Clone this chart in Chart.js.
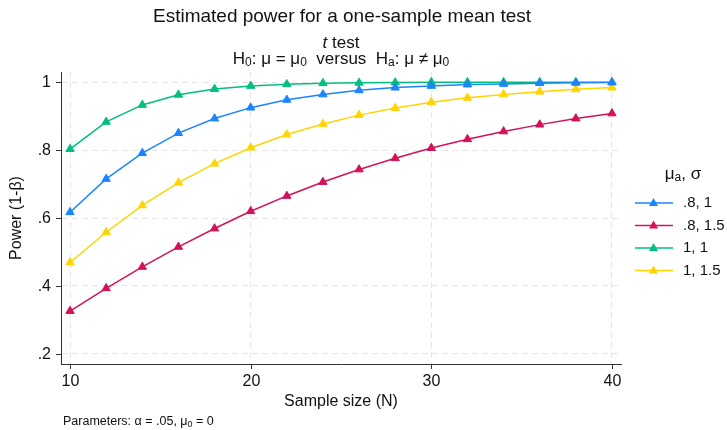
<!DOCTYPE html>
<html lang="en">
<head>
<meta charset="UTF-8">
<title>Estimated power</title>
<style>
  html, body { margin: 0; padding: 0; background: #fff; }
  #wrap { width: 727px; height: 430px; }
</style>
<script src="https://cdn.jsdelivr.net/npm/chart.js"></script>
</head>
<body>
<div id="wrap"><canvas id="powerChart" width="727" height="430"></canvas></div>
<script>
// sample sizes
const sampleSizes = [10, 12, 14, 16, 18, 20, 22, 24, 26, 28, 30, 32, 34, 36, 38, 40];

// power by (mu_a, sigma)
const power_08_1   = [0.617, 0.715, 0.791, 0.850, 0.893, 0.925, 0.948, 0.964, 0.976, 0.984, 0.989, 0.993, 0.995, 0.997, 0.998, 0.999];
const power_08_15  = [0.326, 0.393, 0.456, 0.515, 0.569, 0.620, 0.665, 0.706, 0.743, 0.776, 0.806, 0.832, 0.855, 0.875, 0.893, 0.908];
const power_1_1    = [0.803, 0.883, 0.933, 0.963, 0.980, 0.989, 0.994, 0.997, 0.998, 0.999, 1.000, 1.000, 1.000, 1.000, 1.000, 1.000];
const power_1_15   = [0.469, 0.558, 0.637, 0.704, 0.760, 0.807, 0.846, 0.877, 0.903, 0.924, 0.941, 0.954, 0.964, 0.972, 0.979, 0.984];

const seriesLabels = ['.8, 1', '.8, 1.5', '1, 1', '1, 1.5'];
const seriesColors = ['#1a85ff', '#d41159', '#00bf7f', '#ffd400'];

const xTicks = [10, 20, 30, 40];
const yTicks = [0.2, 0.4, 0.6, 0.8, 1];
const yTickLabels = ['.2', '.4', '.6', '.8', '1'];

const FONT = '"Liberation Sans", Arial, sans-serif';

function pts(vals) {
  return sampleSizes.map((n, i) => ({ x: n, y: vals[i] }));
}

const allSeries = [power_08_1, power_08_15, power_1_1, power_1_15];

const datasets = allSeries.map((vals, i) => ({
  label: seriesLabels[i],
  data: pts(vals),
  borderColor: seriesColors[i],
  backgroundColor: seriesColors[i],
  borderWidth: 1.5,
  pointStyle: 'triangle',
  pointRadius: 4.8,
  pointBorderWidth: 1,
  tension: 0
}));

// text with subscripts / italics: parts = [[text, 'sub'|'it'|'']]
function richText(ctx, parts, x, y, size, align) {
  const fontOf = k => (k === 'it' ? 'italic ' : '') + (k === 'sub' ? Math.round(size * 0.7) : size) + 'px ' + FONT;
  let total = 0;
  parts.forEach(p => { ctx.font = fontOf(p[1]); total += ctx.measureText(p[0]).width; });
  let cx = align === 'center' ? x - total / 2 : x;
  ctx.textAlign = 'left';
  parts.forEach(p => {
    ctx.font = fontOf(p[1]);
    ctx.fillText(p[0], cx, p[1] === 'sub' ? y + size * 0.22 : y);
    cx += ctx.measureText(p[0]).width;
  });
}

// texts, tick marks and legend
const decorations = {
  id: 'decorations',
  afterDraw(chart) {
    const ctx = chart.ctx;
    const xs = chart.scales.x, ys = chart.scales.y;
    const area = chart.chartArea;
    ctx.save();
    ctx.fillStyle = '#111';
    ctx.textAlign = 'center';
    ctx.textBaseline = 'middle';

    // titles
    ctx.font = '19px ' + FONT;
    ctx.fillText('Estimated power for a one-sample mean test', 342, 17);
    richText(ctx, [['t', 'it'], [' test', '']], 341, 43, 17, 'center');
    richText(ctx, [['H', ''], ['0', 'sub'], [': \u03bc = \u03bc', ''], ['0', 'sub'],
                   ['  versus  H', ''], ['a', 'sub'], [': \u03bc \u2260 \u03bc', ''], ['0', 'sub']],
             341, 59, 17, 'center');

    // axes ticks
    ctx.strokeStyle = '#333';
    ctx.lineWidth = 1;
    ctx.font = '16px ' + FONT;
    ctx.textAlign = 'center';
    xTicks.forEach(v => {
      const px = Math.round(xs.getPixelForValue(v)) + 0.5;
      ctx.beginPath();
      ctx.moveTo(px, area.bottom);
      ctx.lineTo(px, area.bottom + 5);
      ctx.stroke();
      ctx.fillText(String(v), px, area.bottom + 18);
    });
    ctx.textAlign = 'right';
    yTicks.forEach((v, i) => {
      const py = Math.round(ys.getPixelForValue(v)) + 0.5;
      ctx.beginPath();
      ctx.moveTo(area.left - 5, py);
      ctx.lineTo(area.left, py);
      ctx.stroke();
      ctx.fillText(yTickLabels[i], area.left - 10, py);
    });

    // axis titles
    ctx.textAlign = 'center';
    ctx.font = '16px ' + FONT;
    ctx.fillText('Sample size (N)', (area.left + area.right) / 2, 402);
    ctx.save();
    ctx.translate(17, (area.top + area.bottom) / 2);
    ctx.rotate(-Math.PI / 2);
    ctx.fillText('Power (1-\u03b2)', 0, 0);
    ctx.restore();

    // note
    richText(ctx, [['Parameters: \u03b1 = .05, \u03bc', ''], ['0', 'sub'], [' = 0', '']], 63, 422, 12.5, 'left');

    // legend
    richText(ctx, [['\u03bc', ''], ['a', 'sub'], [', \u03c3', '']], 683, 174, 17, 'center');
    ctx.textAlign = 'left';
    ctx.font = '15px ' + FONT;
    seriesLabels.forEach((lab, i) => {
      const y = 203 + i * 22.5;
      ctx.strokeStyle = seriesColors[i];
      ctx.lineWidth = 1.5;
      ctx.beginPath();
      ctx.moveTo(635, y);
      ctx.lineTo(673, y);
      ctx.stroke();
      ctx.fillStyle = seriesColors[i];
      ctx.beginPath();
      ctx.moveTo(653.5, y - 5);
      ctx.lineTo(658, y + 3);
      ctx.lineTo(649, y + 3);
      ctx.closePath();
      ctx.fill();
      ctx.fillStyle = '#111';
      ctx.fillText(lab, 683, y);
    });
    ctx.restore();
  }
};

new Chart(document.getElementById('powerChart'), {
  type: 'line',
  data: { datasets: datasets },
  options: {
    responsive: false,
    animation: false,
    layout: { padding: { left: 61, right: 106, top: 72, bottom: 66 } },
    plugins: {
      legend: { display: false },
      title: { display: false },
      tooltip: { enabled: false }
    },
    scales: {
      x: {
        type: 'linear',
        min: 9.5,
        max: 40.5,
        afterBuildTicks: s => { s.ticks = xTicks.map(v => ({ value: v })); },
        afterFit: s => { s.height = 0; },
        ticks: { display: false },
        grid: { drawTicks: false, color: '#e6e6e6', lineWidth: 1 },
        border: { display: true, color: '#333', width: 1, dash: [6, 4] }
      },
      y: {
        min: 0.17,
        max: 1.03,
        afterBuildTicks: s => { s.ticks = yTicks.map(v => ({ value: v })); },
        afterFit: s => { s.width = 0; },
        ticks: { display: false },
        grid: { drawTicks: false, color: '#e6e6e6', lineWidth: 1 },
        border: { display: true, color: '#333', width: 1, dash: [6, 4] }
      }
    }
  },
  plugins: [decorations]
});
</script>
</body>
</html>
